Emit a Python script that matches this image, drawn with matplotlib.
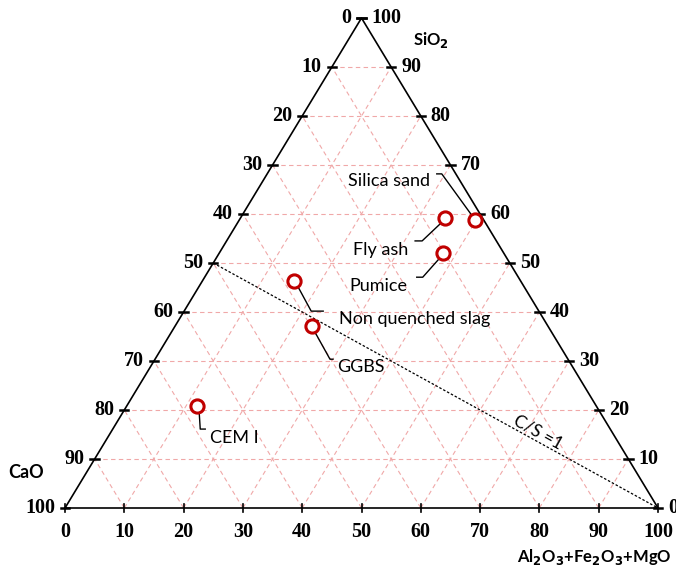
import matplotlib.pyplot as plt
from matplotlib.transforms import IdentityTransform

# ternary data (CaO, SiO2, Al2O3+Fe2O3+MgO), wt.%
names = ["Silica sand", "Fly ash", "Pumice", "Non quenched slag", "GGBS", "CEM I"]
sio2 = [58.8, 59.2, 52.0, 46.3, 37.1, 20.8]
cao = [1.5, 6.3, 10.3, 38.2, 39.8, 67.3]
alfemg = [39.7, 34.5, 37.7, 15.5, 23.1, 11.9]
ticks = [0, 10, 20, 30, 40, 50, 60, 70, 80, 90, 100]

# leader lines in pixel offsets from the point (x right, y up), then text offset + alignment
leaders = [
    ([(-4, 6), (-33, 46), (-38, 46)], (-86, 39), "center"),
    ([(-5, -6), (-23, -23), (-30, -23)], (-64, -32), "center"),
    ([(-4, -6), (-20, -24), (-26, -24)], (-64, -33), "center"),
    ([(4, -6), (17, -30), (29, -30)], (45, -38), "left"),
    ([(3, -6), (18, -33), (21, -33)], (25, -41), "left"),
    ([(2, -7), (3, -23), (8, -23)], (13, -32), "left"),
]

GRID = "#F0A8A8"
RED = "#C00000"
tick_font = dict(family="Liberation Serif", fontweight="bold", fontsize=14.5)
title_font = dict(family="Lato", fontweight="bold", fontsize=12)


def xy(s, a):
    # cartesian coords: y = SiO2, x = Al + SiO2/2
    return a + s / 2.0, s


fig = plt.figure(figsize=(6.76, 5.70), dpi=100)
ax = fig.add_axes([65 / 676, 62 / 570, 593 / 676, 490 / 570])
ax.set_xlim(0, 100)
ax.set_ylim(0, 100)
ax.axis("off")

# grid
for k in ticks[1:-1]:
    x0, y0 = xy(k, 0)
    x1, y1 = xy(k, 100 - k)
    ax.plot([x0, x1], [y0, y1], color=GRID, lw=0.8, ls=(0, (4, 3)), zorder=1)
    x0, y0 = xy(0, k)
    x1, y1 = xy(100 - k, k)
    ax.plot([x0, x1], [y0, y1], color=GRID, lw=0.8, ls=(0, (4, 3)), zorder=1)
    x0, y0 = xy(0, 100 - k)
    x1, y1 = xy(100 - k, 0)
    ax.plot([x0, x1], [y0, y1], color=GRID, lw=0.8, ls=(0, (4, 3)), zorder=1)

# triangle
ax.plot([0, 100, 50, 0], [0, 0, 100, 0], color="black", lw=1.2, zorder=3, clip_on=False)

# ticks and labels
for k in ticks:
    # left edge (CaO)
    lx, ly = xy(100 - k, 0)
    ax.plot([lx - 0.7, lx + 0.7], [ly, ly], color="black", lw=1.8, zorder=3, clip_on=False)
    ax.annotate(str(k), (lx, ly), xytext=(-10, 0), textcoords="offset pixels",
                ha="right", va="center", **tick_font)
    # right edge (SiO2)
    rx, ry = xy(k, 100 - k)
    ax.plot([rx - 0.7, rx + 0.7], [ry, ry], color="black", lw=1.8, zorder=3, clip_on=False)
    ax.annotate(str(k), (rx, ry), xytext=(10, 0), textcoords="offset pixels",
                ha="left", va="center", **tick_font)
    # bottom (Al2O3+Fe2O3+MgO)
    bx, by = xy(0, k)
    ax.plot([bx, bx], [by - 0.9, by + 0.9], color="black", lw=1.2, zorder=3, clip_on=False)
    ax.annotate(str(k), (bx, by), xytext=(0, -24), textcoords="offset pixels",
                ha="center", va="center", **tick_font)

# axis titles
fig.text(431 / 676, 1 - 40 / 570, "SiO$_\\mathbf{2}$", ha="center", va="center", **title_font)
fig.text(26 / 676, 1 - 473 / 570, "CaO", ha="center", va="center",
         family="Lato", fontweight="bold", fontsize=13)
fig.text(594 / 676, 1 - 557 / 570, "Al$_\\mathbf{2}$O$_\\mathbf{3}$+Fe$_\\mathbf{2}$O$_\\mathbf{3}$+MgO",
         ha="center", va="center", **title_font)

# C/S = 1 line
cx0, cy0 = xy(50, 0)
cx1, cy1 = xy(0, 100)
ax.plot([cx0, cx1], [cy0, cy1], color="black", lw=0.9, ls=(0, (2, 1.5)), zorder=2, clip_on=False)
ax.text(xy(15.5, 72)[0], xy(15.5, 72)[1], "C/S =1", rotation=-29, rotation_mode="anchor",
        ha="center", va="center", family="Lato", fontsize=12.5)

# points
px = [xy(s, a)[0] for s, a in zip(sio2, alfemg)]
py = [xy(s, a)[1] for s, a in zip(sio2, alfemg)]
ax.plot(px, py, ls="none", marker="o", ms=9.5, mfc="white", mec=RED, mew=2.2, zorder=5)

# leaders and labels
fig.canvas.draw()
for name, x, y, (segs, toff, ha) in zip(names, px, py, leaders):
    X, Y = ax.transData.transform((x, y))
    ax.plot([X + dx for dx, dy in segs], [Y + dy for dx, dy in segs], color="black", lw=1.0,
            transform=IdentityTransform(), zorder=4)
    ax.text(X + toff[0], Y + toff[1], name, transform=IdentityTransform(),
            ha=ha, va="center", family="Lato", fontsize=13)

fig.savefig("out.png", dpi=100)
